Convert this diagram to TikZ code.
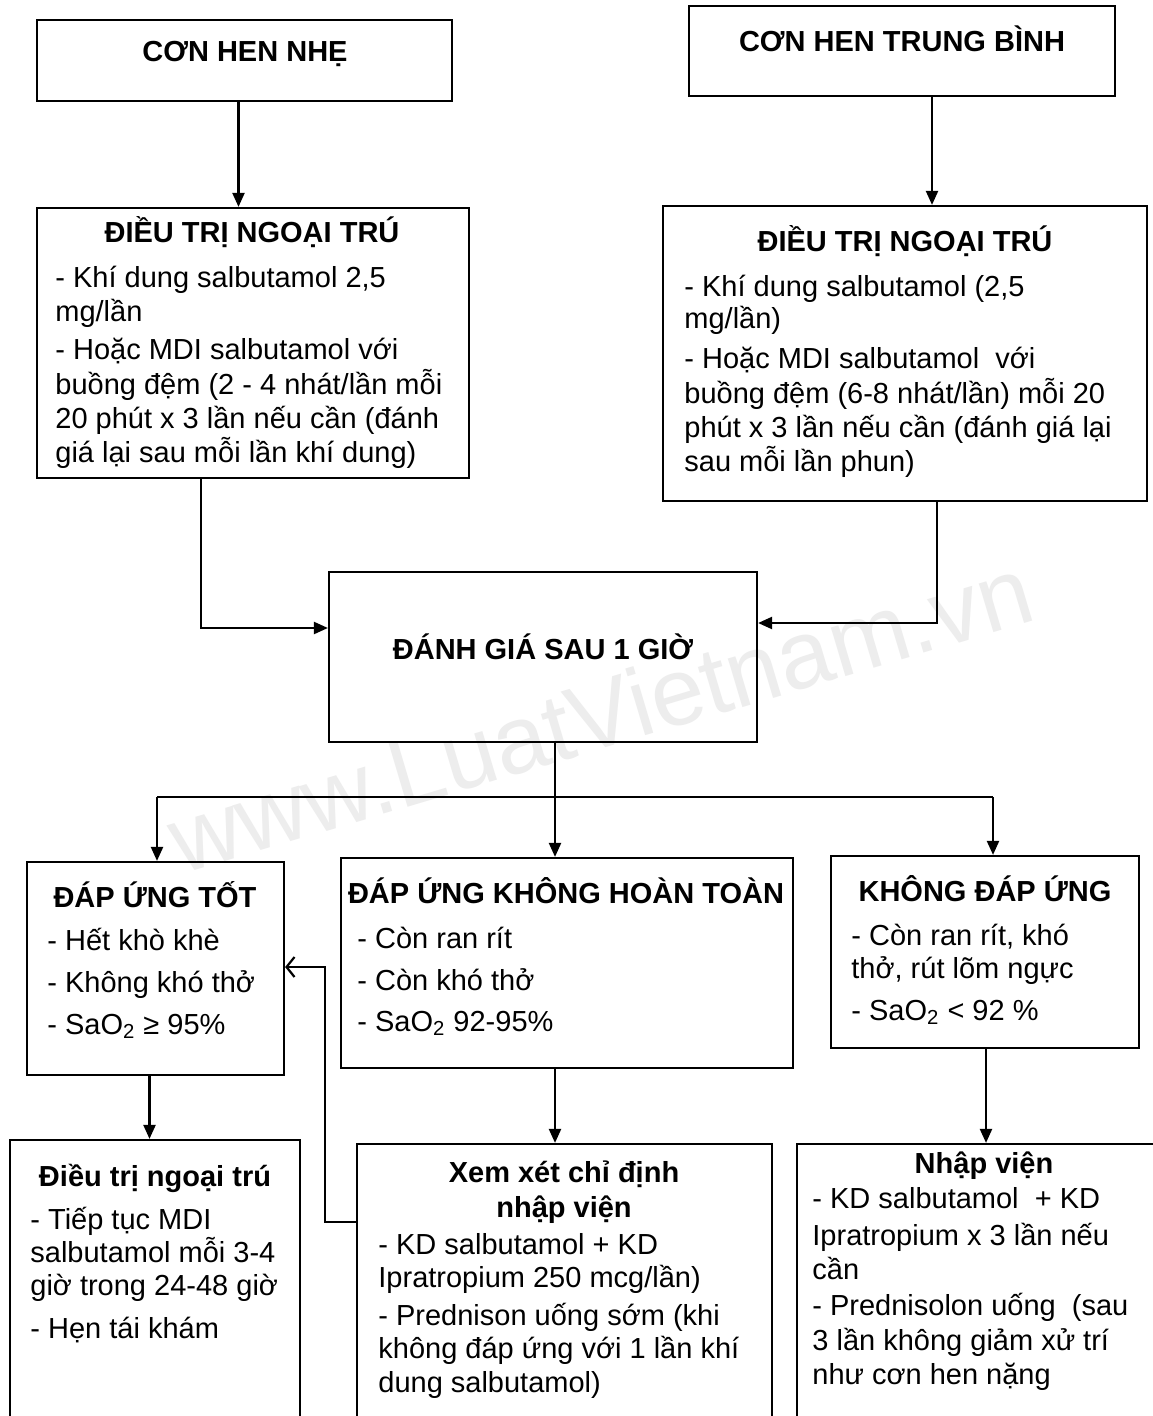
\documentclass[tikz,border=0pt]{standalone}
\usepackage{fontspec}
\setmainfont{Liberation Sans}
\usetikzlibrary{arrows.meta,fit}
\begin{document}
\begin{tikzpicture}[x=0.5pt,y=-0.5pt,
  box/.style={draw, line width=1.1pt, inner sep=0pt},
  txt/.style={anchor=base west, inner sep=0pt, font=\fontsize{14.5}{17}\selectfont},
  ttl/.style={anchor=base, inner sep=0pt, font=\fontsize{14.5}{17}\selectfont\bfseries},
  conn/.style={line width=1.1pt},
  arr/.style={conn, -{Triangle[length=7pt,width=6pt]}},
  openarr/.style={conn, -{Straight Barb[length=4pt,width=10pt]}},
  wm/.style={inner sep=0pt, text=black!7, font=\fontsize{48}{48}\selectfont, rotate=16.6}
]
\useasboundingbox (0,0) rectangle (1152,1416);
\fill[white] (0,0) rectangle (1152,1416);

% watermark
\node[wm] (wmark) at (600,714) {www.LuatVietnam.vn};

% boxes
\node[box, fit={(37,20) (452,101)}] (b1) {};
\node[box, fit={(689,6) (1115,96)}] (b2) {};
\node[box, fit={(37,208) (469,478)}] (b3) {};
\node[box, fit={(663,206) (1147,501)}] (b4) {};
\node[box, fit={(329,572) (757,742)}] (b5) {};
\node[box, fit={(27,862) (284,1075)}] (b6) {};
\node[box, fit={(341,858) (793,1068)}] (b7) {};
\node[box, fit={(831,856) (1139,1048)}] (b8) {};
\node[box, fit={(10,1140) (300,1440)}] (b9) {};
\node[box, fit={(357,1144) (772,1440)}] (b10) {};
\node[box, fit={(797,1144) (1165,1440)}] (b11) {};

% texts
\node[ttl] (t1) at (245,62) {CƠN HEN NHẸ};
\node[ttl] (t2) at (902,52) {CƠN HEN TRUNG BÌNH};

\node[ttl] (t3) at (252,243) {ĐIỀU TRỊ NGOẠI TRÚ};
\node[txt] (t3a) at (55,288) {- Khí dung salbutamol 2,5};
\node[txt] (t3b) at (55,322) {mg/lần};
\node[txt] (t3c) at (55,360) {- Hoặc MDI salbutamol với};
\node[txt] (t3d) at (55,395) {buồng đệm (2 - 4 nhát/lần mỗi};
\node[txt] (t3e) at (55,429) {20 phút x 3 lần nếu cần (đánh};
\node[txt] (t3f) at (55,463) {giá lại sau mỗi lần khí dung)};

\node[ttl] (t4) at (905,252) {ĐIỀU TRỊ NGOẠI TRÚ};
\node[txt] (t4a) at (684,297) {- Khí dung salbutamol (2,5};
\node[txt] (t4b) at (684,329) {mg/lần)};
\node[txt] (t4c) at (684,369) {- Hoặc MDI salbutamol \ với};
\node[txt] (t4d) at (684,404) {buồng đệm (6-8 nhát/lần) mỗi 20};
\node[txt] (t4e) at (684,438) {phút x 3 lần nếu cần (đánh giá lại};
\node[txt] (t4f) at (684,472) {sau mỗi lần phun)};

\node[ttl] (t5) at (543,659) {ĐÁNH GIÁ SAU 1 GIỜ};

\node[ttl] (t6) at (155,907) {ĐÁP ỨNG TỐT};
\node[txt] (t6a) at (47,950) {- Hết khò khè};
\node[txt] (t6b) at (47,992) {- Không khó thở};
\node[txt] (t6c) at (47,1034) {- SaO\textsubscript{2} ≥ 95\%};

\node[ttl] (t7) at (566,903) {ĐÁP ỨNG KHÔNG HOÀN TOÀN};
\node[txt] (t7a) at (357,948) {- Còn ran rít};
\node[txt] (t7b) at (357,990) {- Còn khó thở};
\node[txt] (t7c) at (357,1031) {- SaO\textsubscript{2} 92-95\%};

\node[ttl] (t8) at (985,901) {KHÔNG ĐÁP ỨNG};
\node[txt] (t8a) at (851,945) {- Còn ran rít, khó};
\node[txt] (t8b) at (851,978) {thở, rút lõm ngực};
\node[txt] (t8c) at (851,1020) {- SaO\textsubscript{2} < 92 \%};

\node[ttl] (t9) at (155,1186) {Điều trị ngoại trú};
\node[txt] (t9a) at (30,1229) {- Tiếp tục MDI};
\node[txt] (t9b) at (30,1262) {salbutamol mỗi 3-4};
\node[txt] (t9c) at (30,1295) {giờ trong 24-48 giờ};
\node[txt] (t9d) at (30,1338) {- Hẹn tái khám};

\node[ttl] (t10) at (564,1182) {Xem xét chỉ định};
\node[ttl] (t10x) at (564,1217) {nhập viện};
\node[txt] (t10a) at (378,1254) {- KD salbutamol + KD};
\node[txt] (t10b) at (378,1287) {Ipratropium 250 mcg/lần)};
\node[txt] (t10c) at (378,1325) {- Prednison uống sớm (khi};
\node[txt] (t10d) at (378,1358) {không đáp ứng với 1 lần khí};
\node[txt] (t10e) at (378,1392) {dung salbutamol)};

\node[ttl] (t11) at (984,1173) {Nhập viện};
\node[txt] (t11a) at (812,1208) {- KD salbutamol \ + KD};
\node[txt] (t11b) at (812,1245) {Ipratropium x 3 lần nếu};
\node[txt] (t11c) at (812,1279) {cần};
\node[txt] (t11d) at (812,1315) {- Prednisolon uống \ (sau};
\node[txt] (t11e) at (812,1350) {3 lần không giảm xử trí};
\node[txt] (t11f) at (812,1384) {như cơn hen nặng};

% connectors
\draw[arr] ([xshift=-3pt]b1.south) -- ([xshift=-3pt]b1.south |- b3.north);
\draw[arr] ([xshift=15pt]b2.south) -- ([xshift=15pt]b2.south |- b4.north);
\draw[arr] ([xshift=-26pt]b3.south) |- ([yshift=14.5pt]b5.west);
\draw[arr] ([xshift=16pt]b4.south) |- ([yshift=17pt]b5.east);

\coordinate (jl) at (157,797);
\coordinate (jm) at (555,797);
\coordinate (jr) at (993,797);
\draw[conn] ([xshift=6pt]b5.south) -- (jm);
\draw[conn] (jl) -- (jr);
\draw[arr] (jl) -- (jl |- b6.north);
\draw[arr] (jm) -- (jm |- b7.north);
\draw[arr] (jr) -- (jr |- b8.north);

\draw[arr] ([xshift=-3pt]b6.south) -- ([xshift=-3pt]b6.south |- b9.north);
\draw[arr] ([xshift=-6pt]b7.south) -- ([xshift=-6pt]b7.south |- b10.north);
\draw[arr] ([xshift=0.5pt]b8.south) -- ([xshift=0.5pt]b8.south |- b11.north);

\coordinate (k1) at (325,967);
\coordinate (k2) at (325,1222);
\draw[openarr] (b10.west |- k2) -- (k2) -- (k1) -- (b6.east |- k1);
\end{tikzpicture}
\end{document}
